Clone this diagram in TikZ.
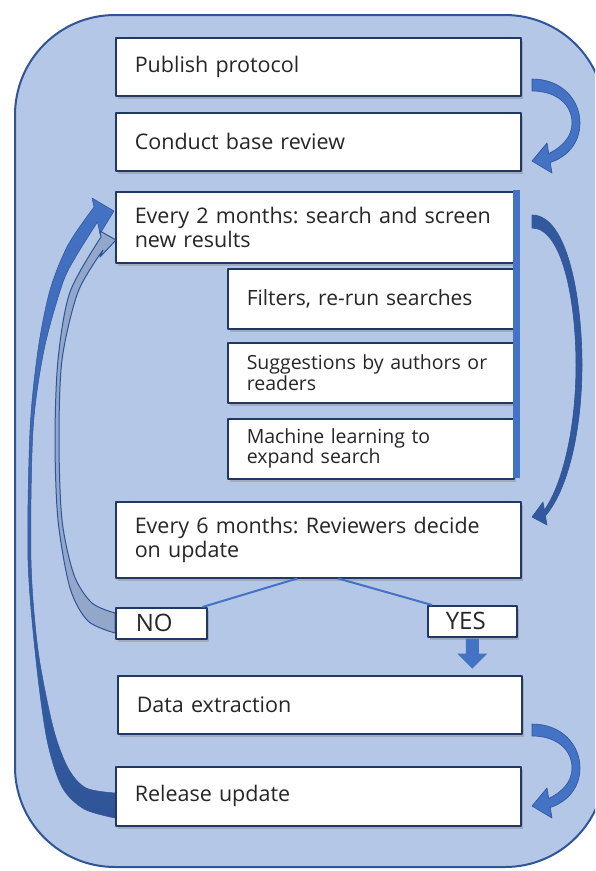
\documentclass[tikz,border=0pt]{standalone}
\usepackage{fontspec}
\setmainfont{Open Sans}
\usetikzlibrary{shadows,calc}
\frenchspacing
\definecolor{bgblue}{HTML}{B4C7E7}
\definecolor{edgeblue}{HTML}{2F5597}
\definecolor{midblue}{HTML}{4472C4}
\definecolor{navy}{HTML}{1F3864}
\definecolor{txt}{HTML}{262626}
\definecolor{nofill}{HTML}{93A7CB}
\tikzset{
  box/.style={draw=navy, line width=1.5pt, fill=white, anchor=north west,
    align=left, inner xsep=19pt, inner ysep=0pt, text=txt,
    drop shadow={shadow xshift=2.5pt, shadow yshift=-3.5pt, opacity=0.4},
    font=\fontsize{21.5}{23.5}\selectfont},
  subbox/.style={box, minimum width=286pt, minimum height=60pt, text width=248pt},
  blockarrow/.style={fill=midblue, draw=edgeblue, line width=0.6pt},
  darkarrow/.style={fill=edgeblue!85!midblue, draw=edgeblue, line width=0.6pt},
  loopshade/.style={top color=midblue, bottom color=edgeblue, draw=edgeblue, line width=0.5pt},
  noarrow/.style={fill=nofill, draw=edgeblue, line width=1pt},
  branch/.style={draw=midblue, line width=2pt},
  shortarr/.pic={
    \path[blockarrow] (0,-6) .. controls (30,-6) and (48,15) .. (48,38)
      .. controls (48,58) and (35,72) .. (18.25,77.5) -- (20,88) -- (0,76)
      -- (15,58) -- (16.75,68.5) .. controls (30,62) and (40,52) .. (40,38)
      .. controls (40,20) and (25,6) .. (0,6) -- cycle;
  }
}
\begin{document}
\begin{tikzpicture}[x=1pt, y=-1pt, line join=round]
\useasboundingbox (0,0) rectangle (595,871);
\clip (0,0) rectangle (595,871);
\fill[white] (0,0) rectangle (595,871);
% background panel
\draw[edgeblue, line width=2pt, fill=bgblue, rounded corners=100pt] (15,15) rectangle (605,867);

% right curved arrows
\pic (arrA) at (532,85) {shortarr};
\pic (arrB) at (532,730) {shortarr};
\path[darkarrow] (532,215) .. controls (568,215) and (582,300) .. (582,365)
  .. controls (582,430) and (568,490) .. (545.4,515.8) -- (547,525) -- (532,517)
  -- (543,502) -- (544.4,510) .. controls (562,485) and (576,430) .. (576,365)
  .. controls (576,300) and (562,228) .. (532,228) -- cycle;

% big left loop arrow (release update -> every 2 months)
\path[loopshade] plot[smooth] coordinates {(115,818) (84,809) (62,787) (47,740) (36,660) (28,560) (30,430) (38,350) (50,290) (68,245) (94,207)}
  -- (92,198) -- (114,211) -- (100,234)
  -- plot[smooth] coordinates {(97.5,222) (75,258) (62,285) (44,350) (33,430) (31,560) (38,650) (53,727) (68,768) (86,788) (115,793)} -- cycle;

% NO loop arrow
\path[noarrow] plot[smooth] coordinates {(115,633) (88,621) (70,588) (58,520) (55,440) (58,360) (70,292) (101,237)}
  -- (100,231) -- (116,240) -- (100,257)
  -- plot[smooth] coordinates {(103,250) (78,292) (62,360) (59,440) (62,520) (74,575) (92,603) (115,613)} -- cycle;

% boxes
\node[box, minimum width=405pt, minimum height=58pt, text width=367pt] (pub) at (115,37) {Publish protocol};
\node[box, minimum width=405pt, minimum height=58pt, text width=367pt] (cbr) at (115,112) {Conduct base review};
\node[box, minimum width=398pt, minimum height=71pt, text width=360pt] (e2m) at (115,191) {Every 2 months: search and screen\\new results};
\node[subbox, font=\fontsize{21}{23}\selectfont] (fil) at (227,268) {Filters, re-run searches};
\node[subbox, font=\fontsize{19.5}{18}\selectfont] (sug) at (227,342) {Suggestions by authors or\\readers};
\node[subbox, font=\fontsize{19.5}{20}\selectfont] (mac) at (227,418) {Machine learning to\\expand search};
\fill[midblue] (513,190) rectangle (520,478);
\node[box, minimum width=405pt, minimum height=76pt, text width=367pt] (e6m) at (115,501) {Every 6 months: Reviewers decide\\on update};
\node[box, minimum width=91pt, minimum height=31pt, text width=51pt, inner xsep=20pt, font=\fontsize{24}{26}\selectfont] (no) at (115,607) {NO};
\node[box, minimum width=89pt, minimum height=31pt, text width=53pt, inner xsep=18pt, font=\fontsize{24}{26}\selectfont] (yes) at (427,605) {YES};
\node[box, minimum width=404pt, minimum height=58pt, text width=366pt] (dat) at (117,675) {Data extraction};
\node[box, minimum width=405pt, minimum height=59pt, text width=367pt] (rel) at (115,766) {Release update};

% decision branches
\draw[branch] ($(e6m.south)+(-21,0)$) -- ($(no.north east)+(-5,0)$);
\draw[branch] ($(e6m.south)+(20,0)$) -- ($(yes.north west)+(5,0)$);

% YES block arrow
\begin{scope}[shift={(yes.south)}]
\fill[midblue] (-6.5,1) -- (6.5,1) -- (6.5,16) -- (15,16) -- (0,31) -- (-15,16) -- (-6.5,16) -- cycle;
\end{scope}
\end{tikzpicture}
\end{document}
